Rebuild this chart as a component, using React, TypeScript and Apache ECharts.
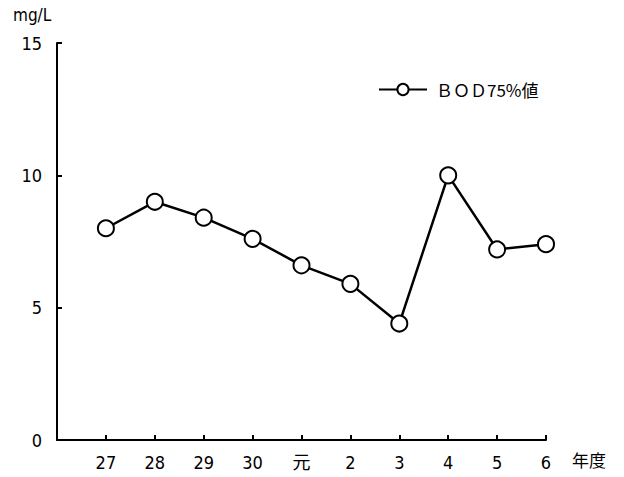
import React, { useEffect, useRef } from "react";
import * as echarts from "echarts";

const categories = ["", "27", "28", "29", "30", "元", "2", "3", "4", "5", "6"];
const bodValues: (number | null)[] = [null, 8.0, 9.0, 8.4, 7.6, 6.6, 5.9, 4.4, 10.0, 7.2, 7.4];
const seriesName = "ＢＯＤ75%値";
const yUnit = "mg/L";
const xUnit = "年度";

const FONT = "'DejaVu Sans Condensed', 'Noto Sans CJK JP', sans-serif";
const CJK = "'Noto Sans CJK JP', sans-serif";

export default function App() {
  const ref = useRef<HTMLDivElement>(null);
  useEffect(() => {
    if (!ref.current) return;
    const chart = echarts.init(ref.current, null, { renderer: "svg" });
    chart.setOption({
      animation: false,
      backgroundColor: "#fff",
      textStyle: { fontFamily: FONT, color: "#000" },
      grid: { left: 57, right: 78, top: 43, bottom: 37, containLabel: false },
      legend: {
        left: 373,
        top: 76,
        itemWidth: 48,
        itemHeight: 14,
        itemGap: 0,
        textStyle: { fontFamily: CJK, fontSize: 17, color: "#000", padding: [0, 0, 0, 4] },
        data: [{ name: seriesName }],
      },
      xAxis: {
        type: "category",
        data: categories,
        boundaryGap: false,
        axisLine: { lineStyle: { color: "#000", width: 2 } },
        axisTick: { inside: true, length: 5, lineStyle: { color: "#000", width: 2 } },
        axisLabel: { color: "#000", fontSize: 18, margin: 13, fontFamily: FONT, interval: 0 },
        splitLine: { show: false },
      },
      yAxis: {
        type: "value",
        min: 0,
        max: 15,
        interval: 5,
        axisLine: { show: true, lineStyle: { color: "#000", width: 2 } },
        axisTick: { show: true, inside: true, length: 5, lineStyle: { color: "#000", width: 2 } },
        axisLabel: { color: "#000", fontSize: 18, margin: 15, fontFamily: FONT },
        splitLine: { show: false },
      },
      series: [
        {
          name: seriesName,
          type: "line",
          data: bodValues,
          symbol: "circle",
          symbolSize: 16,
          connectNulls: false,
          lineStyle: { color: "#000", width: 2.5 },
          itemStyle: { color: "#fff", borderColor: "#000", borderWidth: 2 },
        },
      ],
      graphic: [
        {
          type: "text",
          left: 13,
          top: 6,
          style: { text: yUnit, fontSize: 17, fontFamily: FONT, fill: "#000" },
        },
        {
          type: "text",
          left: 572,
          top: 451,
          style: { text: xUnit, fontSize: 17, fontFamily: CJK, fill: "#000" },
        },
      ],
    });
    return () => chart.dispose();
  }, []);
  return (
    <div
      ref={ref}
      style={{ position: "fixed", left: 0, top: 0, width: 624, height: 477 }}
    />
  );
}
